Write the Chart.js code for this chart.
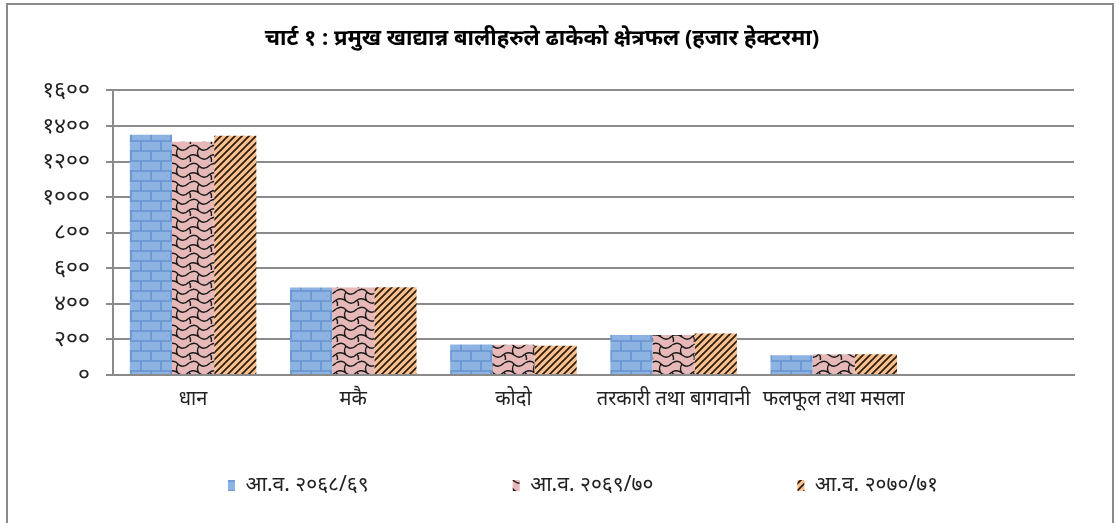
<!DOCTYPE html>
<html>
<head>
<meta charset="utf-8">
<script src="https://cdn.jsdelivr.net/npm/chart.js@4.4.1/dist/chart.umd.min.js"></script>
<style>
  body { margin: 0; background: #fff; }
  #wrap { position: absolute; left: 0; top: 0; width: 1120px; height: 523px; }
  #frame { position: absolute; left: 6px; top: 3px; width: 1104px; height: 540px;
           border: 2px solid #8a8a8a; border-bottom: none; }
</style>
</head>
<body>
<div id="wrap">
  <div id="frame"></div>
  <canvas id="chart" width="1120" height="523"></canvas>
</div>
<script>
const categories = ['धान', 'मकै', 'कोदो', 'तरकारी तथा बागवानी', 'फलफूल तथा मसला', ''];
const seriesNames = ['आ.व. २०६८/६९', 'आ.व. २०६९/७०', 'आ.व. २०७०/७१'];
const values2068 = [1351, 492, 171, 225, 111, null];
const values2069 = [1311, 492, 170, 225, 117, null];
const values2070 = [1345, 493, 164, 233, 117, null];
const yTicks = [0, 200, 400, 600, 800, 1000, 1200, 1400, 1600];

const devDigits = ['०','१','२','३','४','५','६','७','८','९'];
function toDev(n) {
    return String(n).replace(/[0-9]/g, d => devDigits[+d]);
}

// ================= PATTERNS =================
function makeTile(w, h, draw) {
    const c = document.createElement('canvas');
    c.width = w; c.height = h;
    const g = c.getContext('2d');
    draw(g, w, h);
    return document.getElementById('chart').getContext('2d').createPattern(c, 'repeat');
}

const brick = makeTile(20, 20, (g, w, h) => {
    g.fillStyle = '#8db3e2';
    g.fillRect(0, 0, w, h);
    g.strokeStyle = '#6693cf';
    g.lineWidth = 1.6;
    g.beginPath();
    g.moveTo(0, 1); g.lineTo(w, 1);
    g.moveTo(0, 11); g.lineTo(w, 11);
    g.moveTo(1, 1); g.lineTo(1, 11);
    g.moveTo(11, 11); g.lineTo(11, 21);
    g.stroke();
});

const shingle = makeTile(21, 18, (g, w, h) => {
    g.fillStyle = '#e6b9b8';
    g.fillRect(0, 0, w, h);
    g.strokeStyle = '#1a1a1a';
    g.lineWidth = 1.4;
    g.beginPath();
    g.moveTo(0, 3);
    g.quadraticCurveTo(6, -1, 10, 4);
    g.quadraticCurveTo(15, 9, 21, 3);
    g.moveTo(10, 4);
    g.quadraticCurveTo(7, 9, 10, 13);
    g.moveTo(0, 12);
    g.quadraticCurveTo(5, 9, 10, 13);
    g.quadraticCurveTo(16, 18, 21, 12);
    g.moveTo(0, 12);
    g.quadraticCurveTo(3, 16, 0, 21);
    g.moveTo(21, 12);
    g.quadraticCurveTo(24, 16, 21, 21);
    g.stroke();
});

const stripes = makeTile(7, 7, (g, w, h) => {
    g.fillStyle = '#fac090';
    g.fillRect(0, 0, w, h);
    g.strokeStyle = '#2a1a0a';
    g.lineWidth = 1.7;
    g.beginPath();
    g.moveTo(-1, 8); g.lineTo(8, -1);
    g.moveTo(-1, 1); g.lineTo(1, -1);
    g.moveTo(6, 8); g.lineTo(8, 6);
    g.stroke();
});

// ================= CHART =================
const ctx = document.getElementById('chart').getContext('2d');
const FONT = "'Noto Sans', 'Noto Sans Devanagari', sans-serif";
// extra space between legend entries (the reference spreads them wide)
const GAP = '\u2003\u2003\u2003\u2003';
const TAIL = '\u2003';

new Chart(ctx, {
    type: 'bar',
    data: {
        labels: categories,
        datasets: [
            { label: seriesNames[0], data: values2068, backgroundColor: brick },
            { label: seriesNames[1], data: values2069, backgroundColor: shingle },
            { label: seriesNames[2], data: values2070, backgroundColor: stripes }
        ]
    },
    options: {
        responsive: false,
        animation: false,
        layout: { padding: { left: 10, right: 46, top: 10, bottom: 17 } },
        datasets: {
            bar: { categoryPercentage: 0.79, barPercentage: 1.0 }
        },
        plugins: {
            title: {
                display: true,
                text: 'चार्ट १ : प्रमुख खाद्यान्न बालीहरुले ढाकेको क्षेत्रफल (हजार हेक्टरमा)',
                color: '#000',
                font: { family: FONT, size: 22, weight: 'bold' },
                padding: { top: 16, bottom: 38 }
            },
            legend: {
                position: 'bottom',
                fullSize: false,
                labels: {
                    color: '#222',
                    font: { family: FONT, size: 21 },
                    boxWidth: 7,
                    boxHeight: 11,
                    padding: 60,
                    generateLabels: chart => {
                        const items = Chart.defaults.plugins.legend.labels.generateLabels(chart);
                        items.forEach((it, i) => {
                            it.text = it.text + (i < items.length - 1 ? GAP : TAIL);
                        });
                        return items;
                    }
                }
            },
            tooltip: { enabled: false }
        },
        scales: {
            x: {
                grid: { display: false },
                border: { display: true, color: '#8a8a8a', width: 2 },
                ticks: {
                    color: '#222',
                    font: { family: FONT, size: 20 },
                    maxRotation: 0,
                    autoSkip: false,
                    padding: 4
                }
            },
            y: {
                min: 0,
                max: 1600,
                afterBuildTicks: scale => {
                    scale.ticks = yTicks.map(v => ({ value: v }));
                },
                afterFit: scale => { scale.width = 103; },
                grid: { color: '#8a8a8a', lineWidth: 2, tickLength: 7 },
                border: { display: true, color: '#8a8a8a', width: 2 },
                ticks: {
                    color: '#222',
                    font: { family: FONT, size: 23 },
                    padding: 16,
                    callback: v => toDev(v)
                }
            }
        }
    }
});
</script>
</body>
</html>
